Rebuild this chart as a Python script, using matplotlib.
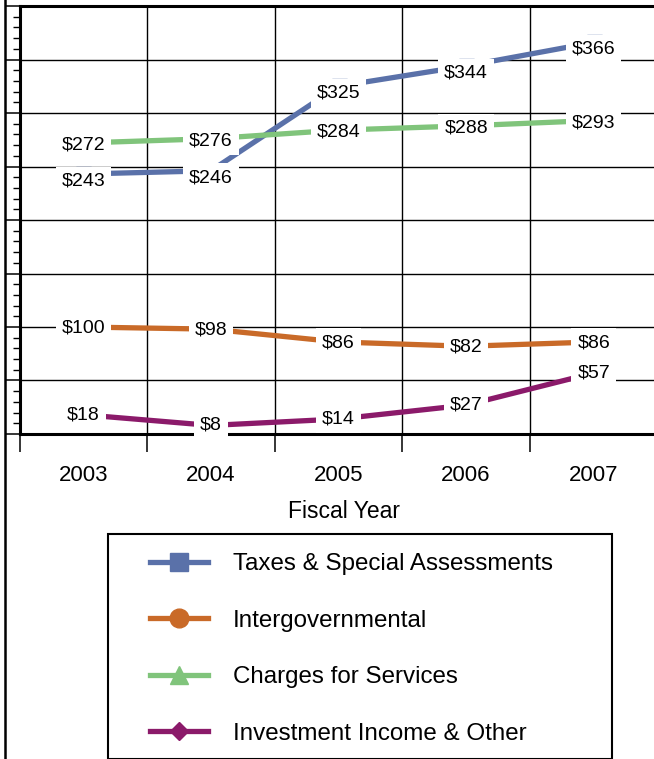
import matplotlib
matplotlib.use("Agg")
import matplotlib.pyplot as plt
from matplotlib.lines import Line2D
from matplotlib.patches import Rectangle
from matplotlib.ticker import MultipleLocator

plt.rcParams['font.family'] = ['Liberation Sans', 'DejaVu Sans']

# Revenue by source, in millions
years = ['2003', '2004', '2005', '2006', '2007']
taxes = [243, 246, 325, 344, 366]
intergov = [100, 98, 86, 82, 86]
charges = [272, 276, 284, 288, 293]
investment = [18, 8, 14, 27, 57]

series = [
    ('Taxes & Special Assessments', taxes, '#5a71a9', 's', 13.5, -5),
    ('Intergovernmental', intergov, '#c96a28', 'o', 13.5, -0.5),
    ('Charges for Services', charges, '#80c47b', '^', 13.5, -1.5),
    ('Investment Income & Other', investment, '#8b1a6a', 'D', 9.0, 0),
]

W, H = 654, 759
def fx(px):
    return px / W
def fy(py):
    return 1 - py / H

fig = plt.figure(figsize=(W / 100, H / 100), dpi=100)
ax = fig.add_axes([fx(19.5), fy(434), (657.5 - 19.5) / W, (434 - 6) / H])

x = list(range(len(years)))
handles = []
for name, vals, color, marker, ms, dy in series:
    # markers on the plot sit under the value boxes
    ax.plot(x, vals, color=color, lw=3.8, marker=marker, ms=ms * 0.8,
            mec=color, mfc=color, zorder=3, clip_on=False)
    handles.append(Line2D([], [], color=color, lw=3.8, marker=marker, ms=ms,
                          mec=color, mfc=color, label=name))
    for xi, v in zip(x, vals):
        ax.annotate(f'${v}', (xi, v), xytext=(0, dy), textcoords='offset points',
                    ha='center', va='center', fontsize=14, zorder=6,
                    annotation_clip=False,
                    bbox=dict(boxstyle='square,pad=0.3', fc='white', ec='none'))

ax.set_xlim(-0.5, 4.5)
ax.set_ylim(0, 400)

ax.set_xticks([i - 0.5 for i in range(len(years) + 1)])
ax.set_xticks(x, minor=True)
ax.set_xticklabels([])
ax.set_xticklabels(years, minor=True)
ax.tick_params(axis='x', which='major', direction='out', length=13, width=1.1, color='black')
ax.tick_params(axis='x', which='minor', length=0, pad=22, labelsize=16)

ax.yaxis.set_major_locator(MultipleLocator(50))
ax.yaxis.set_minor_locator(MultipleLocator(10))
ax.tick_params(axis='y', which='major', direction='out', length=10, width=1.1,
               labelleft=False)
ax.tick_params(axis='y', which='minor', direction='out', length=5, width=1.0)

ax.grid(which='major', color='black', lw=1.0, zorder=1)
ax.set_axisbelow(True)

for side in ('left', 'bottom', 'top'):
    ax.spines[side].set_linewidth(2.2)
ax.spines['right'].set_visible(False)

fig.text(fx(344), fy(512), 'Fiscal Year', ha='center', va='center', fontsize=16.5)

# outer frame on the left edge
fig.add_artist(Line2D([fx(5), fx(5)], [0, 1], transform=fig.transFigure,
                      color='black', lw=1.8))

# legend with its own box
fig.add_artist(Rectangle((fx(108), fy(759.5)), (612 - 108) / W, (759.5 - 534) / H,
                         transform=fig.transFigure, fill=False, ec='black', lw=1.5))
fig.legend(handles=handles, loc='upper left', bbox_to_anchor=(fx(150), fy(553)),
           frameon=False, borderpad=0, borderaxespad=0, handlelength=2.42,
           handletextpad=1.0, labelspacing=1.43, fontsize=17.4)

fig.savefig('out.png', dpi=100)
